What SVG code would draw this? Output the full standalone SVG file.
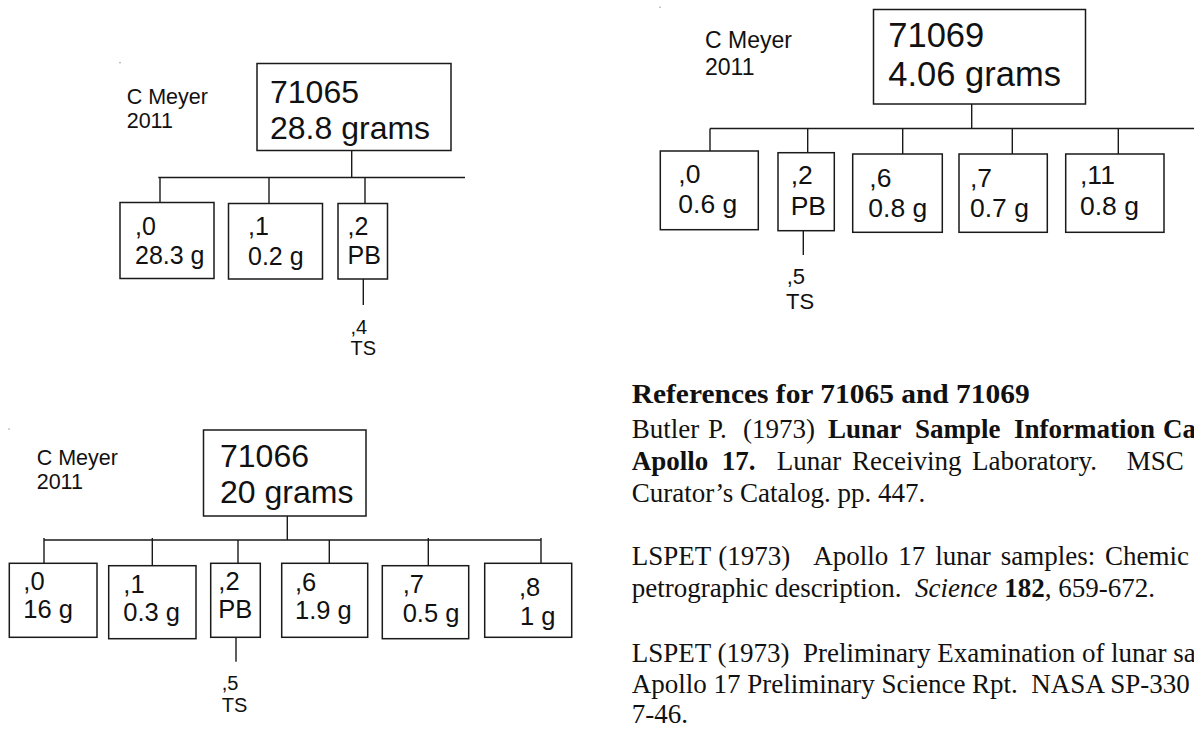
<svg xmlns="http://www.w3.org/2000/svg" width="1194" height="729" viewBox="0 0 1194 729">
<style>
  rect.box { fill: #ffffff; stroke: #1a1a1a; stroke-width: 1.5; }
  .conn path { fill: none; stroke: #1a1a1a; stroke-width: 1.4; }
  text { font-family: "Liberation Sans", Arial, sans-serif; fill: #111111; }
  .big1 { font-size: 32px; }
  .big2 { font-size: 34.5px; }
  .kid1 { font-size: 25px; }
  .kid2 { font-size: 26.5px; }
  .kid3 { font-size: 25.5px; }
  .auth { font-size: 21.5px; }
  .auth2 { font-size: 23px; }
  .ts { font-size: 20px; }
  .ts2 { font-size: 22px; }
  .ref { font-family: "Liberation Serif", "Times New Roman", serif; font-size: 27px; }
  .refh { font-family: "Liberation Serif", "Times New Roman", serif; font-size: 27px; font-weight: bold; }
  .b { font-weight: bold; }
  .i { font-style: italic; }
  .dot { fill: #888888; }
</style>

<!-- Diagram 71065 -->
<g id="d1-author">
  <circle class="dot" cx="120" cy="62.7" r="0.7"/>
  <text class="auth" x="126.7" y="104.3">C Meyer</text>
  <text class="auth" x="126.7" y="128.3">2011</text>
</g>
<g id="d1-top">
  <rect class="box" x="257" y="63.5" width="194" height="87"/>
  <text class="big1" x="270" y="103">71065</text>
  <text class="big1" x="270" y="139">28.8 grams</text>
</g>
<g id="d1-n0">
  <rect class="box" x="120" y="202.5" width="94" height="76"/>
  <text class="kid1" x="135" y="234.5">,0</text>
  <text class="kid1" x="135" y="263.5">28.3 g</text>
</g>
<g id="d1-n1">
  <rect class="box" x="228.5" y="203.5" width="94" height="75.5"/>
  <text class="kid1" x="248" y="235">,1</text>
  <text class="kid1" x="248" y="264.5">0.2 g</text>
</g>
<g id="d1-n2">
  <rect class="box" x="338" y="203.5" width="49.5" height="75.5"/>
  <text class="kid1" x="347.5" y="234.5">,2</text>
  <text class="kid1" x="347.5" y="263.5">PB</text>
</g>
<g id="d1-n4">
  <text class="ts" x="350.5" y="333.5">,4</text>
  <text class="ts" x="350.5" y="355">TS</text>
</g>

<!-- Diagram 71069 -->
<g id="d2-author">
  <circle class="dot" cx="660" cy="7.3" r="0.7"/>
  <text class="auth2" x="705" y="48.3">C Meyer</text>
  <text class="auth2" x="705" y="75">2011</text>
</g>
<g id="d2-top">
  <rect class="box" x="873.5" y="9.5" width="212" height="94.5"/>
  <text class="big2" x="888.3" y="46.7">71069</text>
  <text class="big2" x="888.3" y="86">4.06 grams</text>
</g>
<g id="d2-n0">
  <rect class="box" x="660.3" y="151" width="98" height="78.7"/>
  <text class="kid2" x="678.3" y="182.7">,0</text>
  <text class="kid2" x="678.3" y="213.3">0.6 g</text>
</g>
<g id="d2-n2">
  <rect class="box" x="778" y="152.7" width="56.3" height="78"/>
  <text class="kid2" x="790.7" y="184.3">,2</text>
  <text class="kid2" x="790.7" y="215">PB</text>
</g>
<g id="d2-n6">
  <rect class="box" x="852.7" y="154" width="89.6" height="78.3"/>
  <text class="kid2" x="869.3" y="187.3">,6</text>
  <text class="kid2" x="868.3" y="216.7">0.8 g</text>
</g>
<g id="d2-n7">
  <rect class="box" x="959" y="154" width="88.3" height="78.3"/>
  <text class="kid2" x="970" y="186.7">,7</text>
  <text class="kid2" x="970" y="216.7">0.7 g</text>
</g>
<g id="d2-n11">
  <rect class="box" x="1065.7" y="154" width="98.3" height="78.3"/>
  <text class="kid2" x="1080" y="184.3">,11</text>
  <text class="kid2" x="1080" y="215">0.8 g</text>
</g>
<g id="d2-n5">
  <text class="ts2" x="786.7" y="284">,5</text>
  <text class="ts2" x="786" y="309.3">TS</text>
</g>

<!-- Diagram 71066 -->
<g id="d3-author">
  <circle class="dot" cx="9" cy="429" r="0.7"/>
  <text class="auth" x="36.7" y="465">C Meyer</text>
  <text class="auth" x="36.7" y="489">2011</text>
</g>
<g id="d3-top">
  <rect class="box" x="203.5" y="430" width="162.5" height="86"/>
  <text class="big1" x="220" y="467.3">71066</text>
  <text class="big1" x="220" y="503.3">20 grams</text>
</g>
<g id="d3-n0">
  <rect class="box" x="9.3" y="563.3" width="87.7" height="74"/>
  <text class="kid3" x="23.3" y="590">,0</text>
  <text class="kid3" x="23.3" y="618.3">16 g</text>
</g>
<g id="d3-n1">
  <rect class="box" x="108.7" y="565.7" width="87.3" height="73"/>
  <text class="kid3" x="123.3" y="592.7">,1</text>
  <text class="kid3" x="123.3" y="620.7">0.3 g</text>
</g>
<g id="d3-n2">
  <rect class="box" x="210.7" y="563.3" width="49.6" height="74"/>
  <text class="kid3" x="218.3" y="590">,2</text>
  <text class="kid3" x="218.3" y="618.3">PB</text>
</g>
<g id="d3-n6">
  <rect class="box" x="281.7" y="563.3" width="86" height="74"/>
  <text class="kid3" x="295" y="590.7">,6</text>
  <text class="kid3" x="295" y="619.3">1.9 g</text>
</g>
<g id="d3-n7">
  <rect class="box" x="382.3" y="565.7" width="86.4" height="73"/>
  <text class="kid3" x="402.7" y="593.3">,7</text>
  <text class="kid3" x="402.7" y="621.7">0.5 g</text>
</g>
<g id="d3-n8">
  <rect class="box" x="484.7" y="563.3" width="87" height="74"/>
  <text class="kid3" x="519" y="596">,8</text>
  <text class="kid3" x="520" y="625">1 g</text>
</g>
<g id="d3-n5">
  <text class="ts" x="221.7" y="690">,5</text>
  <text class="ts" x="221.7" y="711.7">TS</text>
</g>

<!-- Connectors -->
<g id="connectors" class="conn">
  <path d="M351.7,150.7 V177.5 M158.3,177.5 H465 M160,177.5 V202.5 M269,177.5 V203.5 M365,177.5 V203.5 M363.3,279 V305"/>
  <path d="M971.7,104 V128.5 M710,128.5 H1194 M710,128.5 V151 M807.7,128.5 V152.7 M902.7,128.5 V154 M1012.3,128.5 V154 M1118.3,128.5 V154 M803.3,230.7 V255"/>
  <path d="M287.3,516 V540 M44,540 H541 M44,538 V563.3 M152.3,538 V565.7 M238,540 V563.3 M329.3,540 V563.3 M428.3,538 V565.7 M541,538 V563.3 M236,637.3 V661.7"/>
</g>

<!-- References -->
<g id="references">
  <text class="refh" x="631.7" y="403.3" textLength="398" lengthAdjust="spacingAndGlyphs">References for 71065 and 71069</text>
  <text class="ref" y="438.3"><tspan x="631.7">Butler</tspan><tspan x="708">P.</tspan><tspan x="743">(1973)</tspan><tspan class="b" x="828">Lunar</tspan><tspan class="b" x="915">Sample</tspan><tspan class="b" x="1014">Information</tspan><tspan class="b" x="1163">Ca</tspan></text>
  <text class="ref" y="470"><tspan class="b" x="631.7">Apollo</tspan><tspan class="b" x="721.7">17.</tspan><tspan x="776.7">Lunar</tspan><tspan x="852">Receiving</tspan><tspan x="972">Laboratory.</tspan><tspan x="1126.7">MSC</tspan></text>
  <text class="ref" x="631.7" y="501.7">Curator’s Catalog. pp. 447.</text>
  <text class="ref" y="565"><tspan x="631.7">LSPET</tspan><tspan x="718.3">(1973)</tspan><tspan x="813.3">Apollo</tspan><tspan x="898.3">17</tspan><tspan x="935.3">lunar</tspan><tspan x="1000.8">samples:</tspan><tspan x="1105">Chemic</tspan></text>
  <text class="ref" x="631.7" y="596.7">petrographic description.&#160; <tspan class="i">Science</tspan> <tspan class="b">182</tspan>, 659-672.</text>
  <text class="ref" x="631.7" y="661.7">LSPET (1973)&#160; Preliminary Examination of lunar sa</text>
  <text class="ref" x="631.7" y="692.7">Apollo 17 Preliminary Science Rpt.&#160; NASA SP-330</text>
  <text class="ref" x="631.7" y="723.3">7-46.</text>
</g>
</svg>
